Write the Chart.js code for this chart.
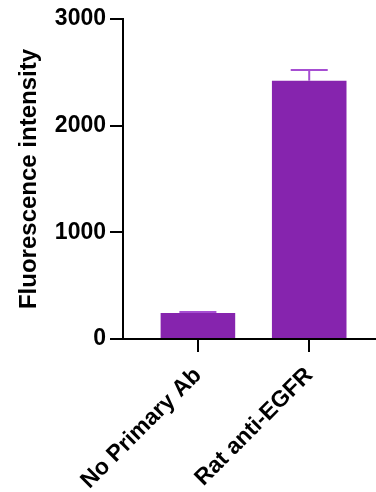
<!DOCTYPE html>
<html>
<head>
<meta charset="utf-8">
<style>
  html, body { margin: 0; padding: 0; background: #fff; }
  #wrap { width: 376px; height: 492px; }
</style>
<script src="https://cdn.jsdelivr.net/npm/chart.js@4/dist/chart.umd.min.js"></script>
</head>
<body>
<div id="wrap"><canvas id="myChart" width="376" height="492"></canvas></div>
<script>
// data
var categories = ['No Primary Ab', 'Rat anti-EGFR'];
var means = [244, 2420];
var errors = [9, 102];
var yTicks = [0, 1000, 2000, 3000];

var barColor = '#8624ae';
var errColor = '#a64ed2';

// error bars (upper only, like the original)
var errorBars = {
    id: 'errorBars',
    afterDatasetsDraw: function(chart) {
        var ctx = chart.ctx;
        var x = chart.scales.x, y = chart.scales.y;
        ctx.save();
        ctx.strokeStyle = errColor;
        ctx.lineWidth = 2;
        means.forEach(function(m, i) {
            var px = x.getPixelForValue(i + 1);
            var top = y.getPixelForValue(m + errors[i]);
            var base = y.getPixelForValue(m);
            ctx.beginPath();
            ctx.moveTo(px, base);
            ctx.lineTo(px, top);
            ctx.moveTo(px - 18.5, top);
            ctx.lineTo(px + 18.5, top);
            ctx.stroke();
        });
        ctx.restore();
    }
};

function renderChart() {
    var ctx = document.getElementById('myChart').getContext('2d');
    new Chart(ctx, {
        type: 'bar',
        data: {
            datasets: [{
                data: means.map(function(v, i) { return {x: i + 1, y: v}; }),
                backgroundColor: barColor,
                borderWidth: 0,
                barPercentage: 0.67,
                categoryPercentage: 1
            }]
        },
        options: {
            responsive: false,
            animation: false,
            layout: { padding: { top: 19, right: 0, left: 0, bottom: 0 } },
            plugins: { legend: { display: false }, tooltip: { enabled: false } },
            scales: {
                x: {
                    type: 'linear',
                    offset: false,
                    min: 0.327,
                    max: 2.6,
                    afterBuildTicks: function(s) {
                        s.ticks = categories.map(function(c, i) { return {value: i + 1}; });
                    },
                    afterFit: function(s) { s.height = 153; },
                    border: { color: '#000', width: 2 },
                    grid: { offset: false, drawOnChartArea: false, color: '#000', tickLength: 13, lineWidth: 2 },
                    ticks: {
                        color: '#000',
                        minRotation: 45,
                        maxRotation: 45,
                        padding: 10,
                        font: { family: 'Liberation Sans, Arial', size: 23, weight: 'bold' },
                        callback: function(v) { return categories[v - 1]; }
                    }
                },
                y: {
                    min: 0,
                    max: 3000,
                    afterBuildTicks: function(s) {
                        s.ticks = yTicks.map(function(v) { return {value: v}; });
                    },
                    afterFit: function(s) { s.width = 123; },
                    border: { color: '#000', width: 2 },
                    grid: { drawOnChartArea: false, color: '#000', tickLength: 13, lineWidth: 2 },
                    ticks: {
                        color: '#000',
                        padding: 4,
                        font: { family: 'Liberation Sans, Arial', size: 23, weight: 'bold' },
                        callback: function(v) { return String(v); }
                    },
                    title: {
                        display: true,
                        text: 'Fluorescence intensity',
                        color: '#000',
                        padding: { top: 15, bottom: 0 },
                        font: { family: 'Liberation Sans, Arial', size: 24, weight: 'bold' }
                    }
                }
            }
        },
        plugins: [errorBars]
    });
}
window.onload = renderChart;
</script>
</body>
</html>
